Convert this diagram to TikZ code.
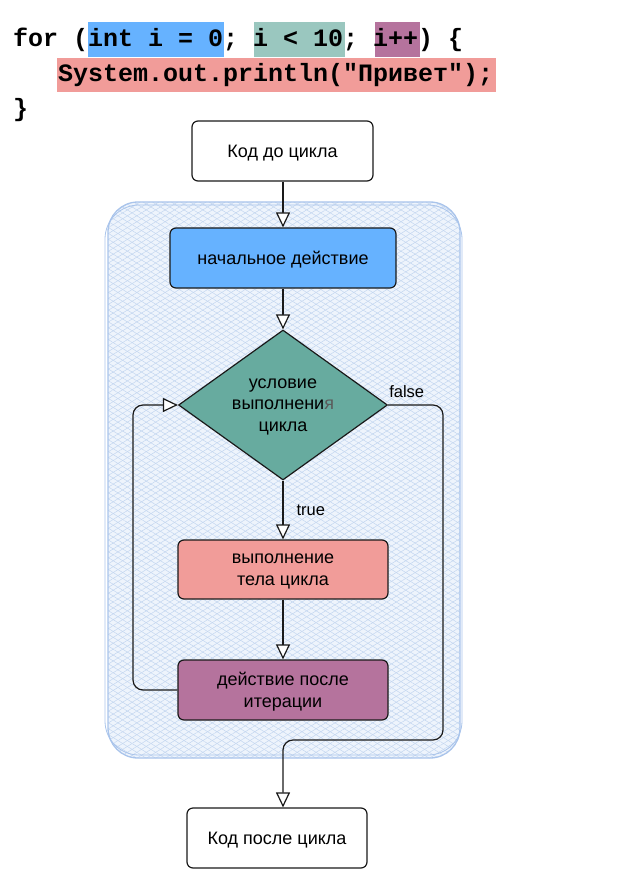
\documentclass[tikz,border=0pt]{standalone}
\usepackage{fontspec}
\setmainfont{Liberation Sans}
\newfontfamily\codefont{Liberation Mono}
\usetikzlibrary{shapes.geometric,arrows.meta,patterns.meta}
\definecolor{hlblue}{HTML}{66B2FF}
\definecolor{hlgreen}{HTML}{9AC7BF}
\definecolor{hlpurple}{HTML}{B5739D}
\definecolor{hlred}{HTML}{F19C99}
\definecolor{teal}{HTML}{67AB9F}
\definecolor{hatchbg}{HTML}{EEF4FC}
\definecolor{hatchln}{HTML}{C3D6F0}
\definecolor{frame}{HTML}{A9C4EB}
\definecolor{ink}{HTML}{1A1A1A}
\tikzset{
  codeline/.style={anchor=base west, inner sep=0pt, font=\codefont\bfseries\fontsize{25}{30}\selectfont},
  box/.style={draw=ink, line width=1.2pt, rounded corners=6pt, align=center, inner sep=2pt,
    text depth=0pt, font=\fontsize{18}{21.7}\selectfont},
  cond/.style={draw=ink, line width=1.2pt, diamond, aspect=1.393, inner sep=0pt, fill=teal,
    minimum width=209pt, minimum height=150pt, align=center, text depth=0pt,
    font=\fontsize{18}{21.7}\selectfont},
  conn/.style={draw=ink, line width=1.2pt, -{Triangle[length=15pt, width=14pt, fill=white, line width=1.2pt]}},
  lbl/.style={inner sep=1pt, font=\fontsize{16.5}{19}\selectfont}
}
\begin{document}
\begin{tikzpicture}[x=1pt, y=-1pt]
\useasboundingbox (0,0) rectangle (621,885);
% code highlights
\fill[hlblue] (88,22) rectangle (224,57);
\fill[hlgreen] (254,22) rectangle (345,57);
\fill[hlpurple] (375,22) rectangle (420,57);
\fill[hlred] (57,58) rectangle (496,92);
\node[codeline] (l1) at (13,47) {for (int i = 0; i < 10; i++) \{};
\node[codeline] (l2) at (58,82) {System.out.println("Привет");};
\node[codeline] (l3) at (13,117) {\}};
% loop container
\fill[hatchbg, rounded corners=30pt] (108,202) rectangle (460,758);
\fill[pattern={Lines[angle=32, distance=5pt, line width=0.5pt]}, pattern color=hatchln, rounded corners=30pt] (108,202) rectangle (460,758);
\fill[pattern={Lines[angle=-32, distance=5pt, line width=0.5pt]}, pattern color=hatchln, rounded corners=30pt] (108,202) rectangle (460,758);
\draw[frame, line width=1.3pt, rounded corners=30pt] (108,202) rectangle (460,758);
\draw[frame, line width=0.8pt, rounded corners=34pt] (105,205) rectangle (462,755);
% nodes
\node[box, fill=white, minimum width=181pt, minimum height=60pt] (start) at (282.5,151) {Код до цикла};
\node[box, fill=hlblue, minimum width=226pt, minimum height=60pt] (init) at (283,258) {начальное действие};
\node[cond] (test) at (283,405) {условие\\выполнени{\color[HTML]{5A5A5A}я}\\цикла};
\node[box, fill=hlred, minimum width=210pt, minimum height=59pt] (body) at (283,569.5) {выполнение\\тела цикла};
\node[box, fill=hlpurple, minimum width=210pt, minimum height=60pt] (post) at (283,690) {действие после\\итерации};
\node[box, fill=white, minimum width=180pt, minimum height=60pt] (after) at (277,838) {Код после цикла};
% connectors
\coordinate (lb) at (133,405);
\coordinate (rb) at (443,740);
\draw[conn] (start.south -| init.north) -- (init.north);
\draw[conn] (init) -- (test);
\draw[conn] (test) -- node[lbl, anchor=west, xshift=12pt] (tl) {true} (body);
\draw[conn] (body) -- (post);
\draw[conn, rounded corners=10pt] (post.west) -| (lb) -- (test.west);
\draw[conn, rounded corners=10pt] (test.east) -| (rb) -| (after.north -| init.south);
\node[lbl, anchor=south west] (fl) at ([yshift=6pt]test.east) {false};
\end{tikzpicture}
\end{document}
